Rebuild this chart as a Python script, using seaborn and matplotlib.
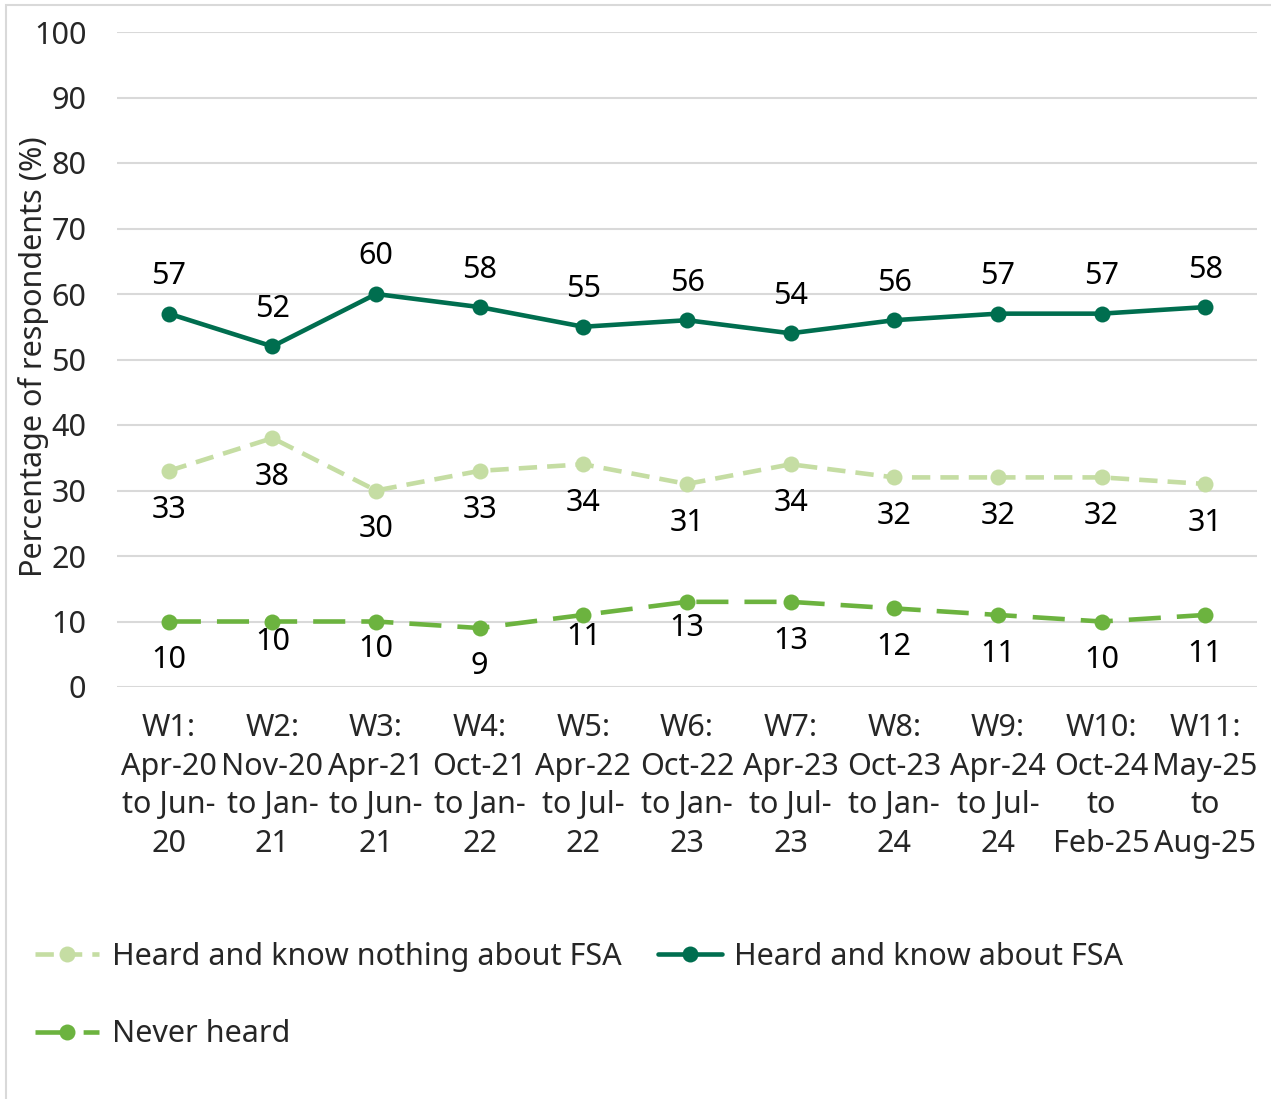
import matplotlib
matplotlib.use("Agg")
import matplotlib.pyplot as plt
from matplotlib.patches import Rectangle
import seaborn as sns
import pandas as pd

# ---- data ----
waves = ["W1:\nApr-20\nto Jun-\n20", "W2:\nNov-20\nto Jan-\n21", "W3:\nApr-21\nto Jun-\n21",
         "W4:\nOct-21\nto Jan-\n22", "W5:\nApr-22\nto Jul-\n22", "W6:\nOct-22\nto Jan-\n23",
         "W7:\nApr-23\nto Jul-\n23", "W8:\nOct-23\nto Jan-\n24", "W9:\nApr-24\nto Jul-\n24",
         "W10:\nOct-24\nto\nFeb-25", "W11:\nMay-25\nto\nAug-25"]
know_about = [57, 52, 60, 58, 55, 56, 54, 56, 57, 57, 58]
know_nothing = [33, 38, 30, 33, 34, 31, 34, 32, 32, 32, 31]
never_heard = [10, 10, 10, 9, 11, 13, 13, 12, 11, 10, 11]
series_names = ["Heard and know nothing about FSA", "Heard and know about FSA", "Never heard"]

# ---- style ----
C_DARK = "#006E4F"
C_LIGHT = "#C5DDA3"
C_MID = "#6CB33F"
FS = 22
# label offsets in points (negative = above)
off_know = [-27] * 11
off_nothing = [28] * 11
off_never = [28, 15, 20, 27, 16, 19, 28, 28, 28, 28, 28]

sns.set_theme(style="white")
plt.rcParams["font.family"] = ["Noto Sans", "DejaVu Sans"]

fig = plt.figure(figsize=(12.71, 10.99), dpi=100)
ax = fig.add_axes([117 / 1271, 1 - 687 / 1099, 1140 / 1271, 655 / 1099])

x = list(range(len(waves)))
df = pd.DataFrame({"x": x, "know": know_about, "nothing": know_nothing, "never": never_heard})

sns.lineplot(data=df, x="x", y="nothing", ax=ax, color=C_LIGHT, linewidth=3.3,
             marker="o", markersize=11.5, markeredgewidth=0, label=series_names[0])
ax.lines[-1].set_dashes([4, 2.2])
sns.lineplot(data=df, x="x", y="know", ax=ax, color=C_DARK, linewidth=3.3,
             marker="o", markersize=11.5, markeredgewidth=0, label=series_names[1])
sns.lineplot(data=df, x="x", y="never", ax=ax, color=C_MID, linewidth=3.3,
             marker="o", markersize=11.5, markeredgewidth=0, label=series_names[2])
ax.lines[-1].set_dashes([7, 3.5])

for ys, offs in [(know_about, off_know), (know_nothing, off_nothing), (never_heard, off_never)]:
    for xi, yi, o in zip(x, ys, offs):
        ax.annotate(f"{yi}", (xi, yi), xytext=(0, -o), textcoords="offset points",
                    ha="center", va="center", fontsize=FS, color="black")

ax.set_xlim(-0.5, len(waves) - 0.5)
ax.set_ylim(0, 100)
ax.set_yticks(range(0, 101, 10))
ax.set_xticks(x)
ax.set_xticklabels(waves, fontsize=FS, linespacing=1.37)
ax.tick_params(axis="y", labelsize=FS, pad=22, length=0)
ax.tick_params(axis="x", pad=19, length=0)
ax.grid(axis="y", color="#D9D9D9", linewidth=1.5)
ax.set_axisbelow(True)
for s in ax.spines.values():
    s.set_visible(False)
ax.set_xlabel("")
ax.set_ylabel("Percentage of respondents (%)", fontsize=FS)
ax.yaxis.set_label_coords(-0.060, 0.504)

h, l = ax.get_legend_handles_labels()
order = [0, 2, 1]
ax.legend([h[i] for i in order], [l[i] for i in order], ncol=2, fontsize=FS,
          loc="upper left", bbox_to_anchor=(0.006, 0.168), bbox_transform=fig.transFigure,
          frameon=False, handlelength=2.1, columnspacing=1.2, labelspacing=1.55,
          handletextpad=0.4)

fig.patches.append(Rectangle((6 / 1271, -0.01), 1.2, 1 - 5 / 1099 + 0.01, transform=fig.transFigure,
                             fill=False, edgecolor="#D9D9D9", linewidth=1.5))

fig.savefig("out.png", dpi=100)
